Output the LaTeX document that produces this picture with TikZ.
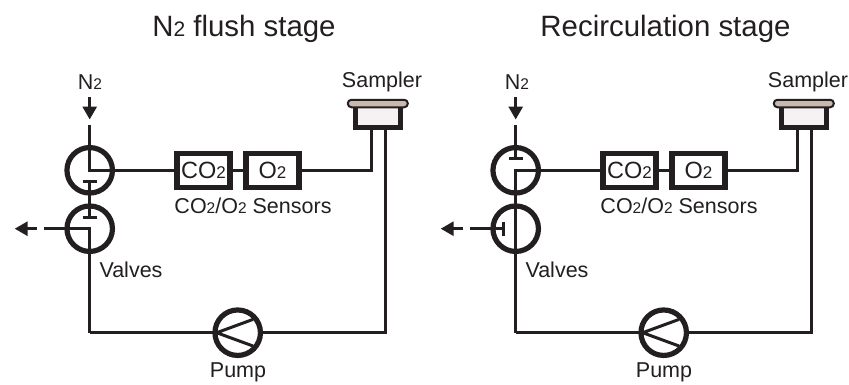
\documentclass[tikz,border=0pt]{standalone}
\usepackage{fontspec}
\setmainfont{Liberation Sans}
\usetikzlibrary{arrows.meta}
\definecolor{ink}{HTML}{231F20}
\definecolor{captan}{HTML}{C9B9AC}
\definecolor{bodyfill}{HTML}{F6F2F3}
\newcommand{\subtwo}{{\fontsize{15.5}{15.5}\selectfont 2}}
\newcommand{\subbox}{{\fontsize{17}{17}\selectfont 2}}
\tikzset{
  pipe/.style={draw=ink,line width=3pt},
  flowarrow/.style={draw=ink,line width=3pt,-{Triangle[length=13pt,width=14pt]}},
  valvecircle/.style={circle,draw=ink,line width=5.2pt,minimum size=45.5pt,inner sep=0pt,outer sep=0pt},
  sensorbox/.style={rectangle,draw=ink,line width=5.4pt,minimum width=53pt,minimum height=34pt,inner sep=0pt,outer sep=0pt,font=\fontsize{23.5}{23.5}\selectfont,text=ink,text height=16.5pt,text depth=0pt},
  label/.style={inner sep=0pt,outer sep=0pt,anchor=base,font=\fontsize{21.5}{24}\selectfont,text=ink},
  titletext/.style={inner sep=0pt,outer sep=0pt,anchor=base,font=\fontsize{29.4}{30}\selectfont,text=ink},
  samplerbody/.style={rectangle,draw=ink,line width=5.4pt,fill=bodyfill,minimum width=45pt,minimum height=22pt,inner sep=0pt,outer sep=0pt},
  samplercap/.style={rectangle,rounded corners=3.6pt,draw=ink,line width=2pt,fill=captan,minimum width=60pt,minimum height=7.5pt,inner sep=0pt,outer sep=0pt},
}
% #1 prefix, #2 x offset
\newcommand{\stagecommon}[2]{%
\begin{scope}[xshift=#2pt]
  \node[valvecircle] (#1v1) at (89.7,170.3) {};
  \node[valvecircle] (#1v2) at (89.7,228.7) {};
  \node[valvecircle] (#1pump) at (237.7,332.7) {};
  \node[sensorbox] (#1co) at (203.5,170.3) {CO\subbox};
  \node[sensorbox] (#1ox) at (272.5,170.3) {O\subbox};
  \node[samplerbody] (#1sb) at (377.8,116.5) {};
  \node[samplercap] (#1sc) at (377.8,103.5) {};
  \coordinate (#1sa) at (371,126);
  \coordinate (#1sr) at (385.3,126);
  \coordinate (#1ltop) at (89.7,125);
  \coordinate (#1ain) at (89.7,97);
  \coordinate (#1aint) at (89.7,119.5);
  \coordinate (#1aout) at (37,228.7);
  \coordinate (#1aoutt) at (14.7,228.7);
  \coordinate (#1corner) at (89.7,332.7);
  \coordinate (#1lstub) at (44,228.7);
  \draw[pipe] (#1co) -- (#1ox);
  \draw[pipe] (#1ox.east) -| (#1sa);
  \draw[pipe] (#1sr) |- (#1pump.east);
  \draw[pipe] (#1corner) -- (#1pump.west);
  \draw[pipe,line join=round] (#1pump.center) ++(15.3,-13.3) -- ++(-36.3,13.3) -- ++(36.3,13.3);
  \draw[flowarrow] (#1ain) -- (#1aint);
  \draw[flowarrow] (#1aout) -- (#1aoutt);
  \node[label] (#1lsam) at (382,87) {Sampler};
  \node[label] (#1lsen) at (253,213) {CO\subtwo/O\subtwo{} Sensors};
  \node[label] (#1lval) at (131,277) {Valves};
  \node[label] (#1lpum) at (238,377) {Pump};
\end{scope}}
\begin{document}
\begin{tikzpicture}[x=1pt,y=-1pt]
\useasboundingbox (0,0) rectangle (849,384);
\fill[white] (0,0) rectangle (849,384);
\node[titletext] (t1) at (244,36) {N{\fontsize{21}{21}\selectfont 2} flush stage};
\node[titletext] (t2) at (665.5,36) {Recirculation stage};
\node[label] (n1) at (90,89) {N\subtwo};
\node[label] (n2) at (517,89) {N\subtwo};
\stagecommon{a}{0}
\stagecommon{b}{426}
% left panel: N2 flush
\draw[pipe] (altop) -- (av1.center) -- (aco.west);
\draw[pipe] (av1.south) -- ++(0,-11.5) coordinate (ac2);
\draw[pipe] (ac2) ++(-7,0) -- ++(14,0);
\draw[pipe] (av2.north) -- ++(0,11.5) coordinate (ac3);
\draw[pipe] (ac3) ++(-7,0) -- ++(14,0);
\draw[pipe] (acorner) -- (av2.center) -- (alstub);
\draw[pipe] (av1.south) -- (av2.north);
% right panel: recirculation
\draw[pipe] (bltop) -- (bv1.north) -- ++(0,11) coordinate (bc1);
\draw[pipe] (bc1) ++(-7,0) -- ++(14,0);
\draw[pipe] (bco.west) -- (bv1.center) -- (bcorner);
\draw[pipe] (blstub) -- (bv2.west) -- ++(11,0) coordinate (bc2);
\draw[pipe] (bc2) ++(0,-7) -- ++(0,14);
\end{tikzpicture}
\end{document}
